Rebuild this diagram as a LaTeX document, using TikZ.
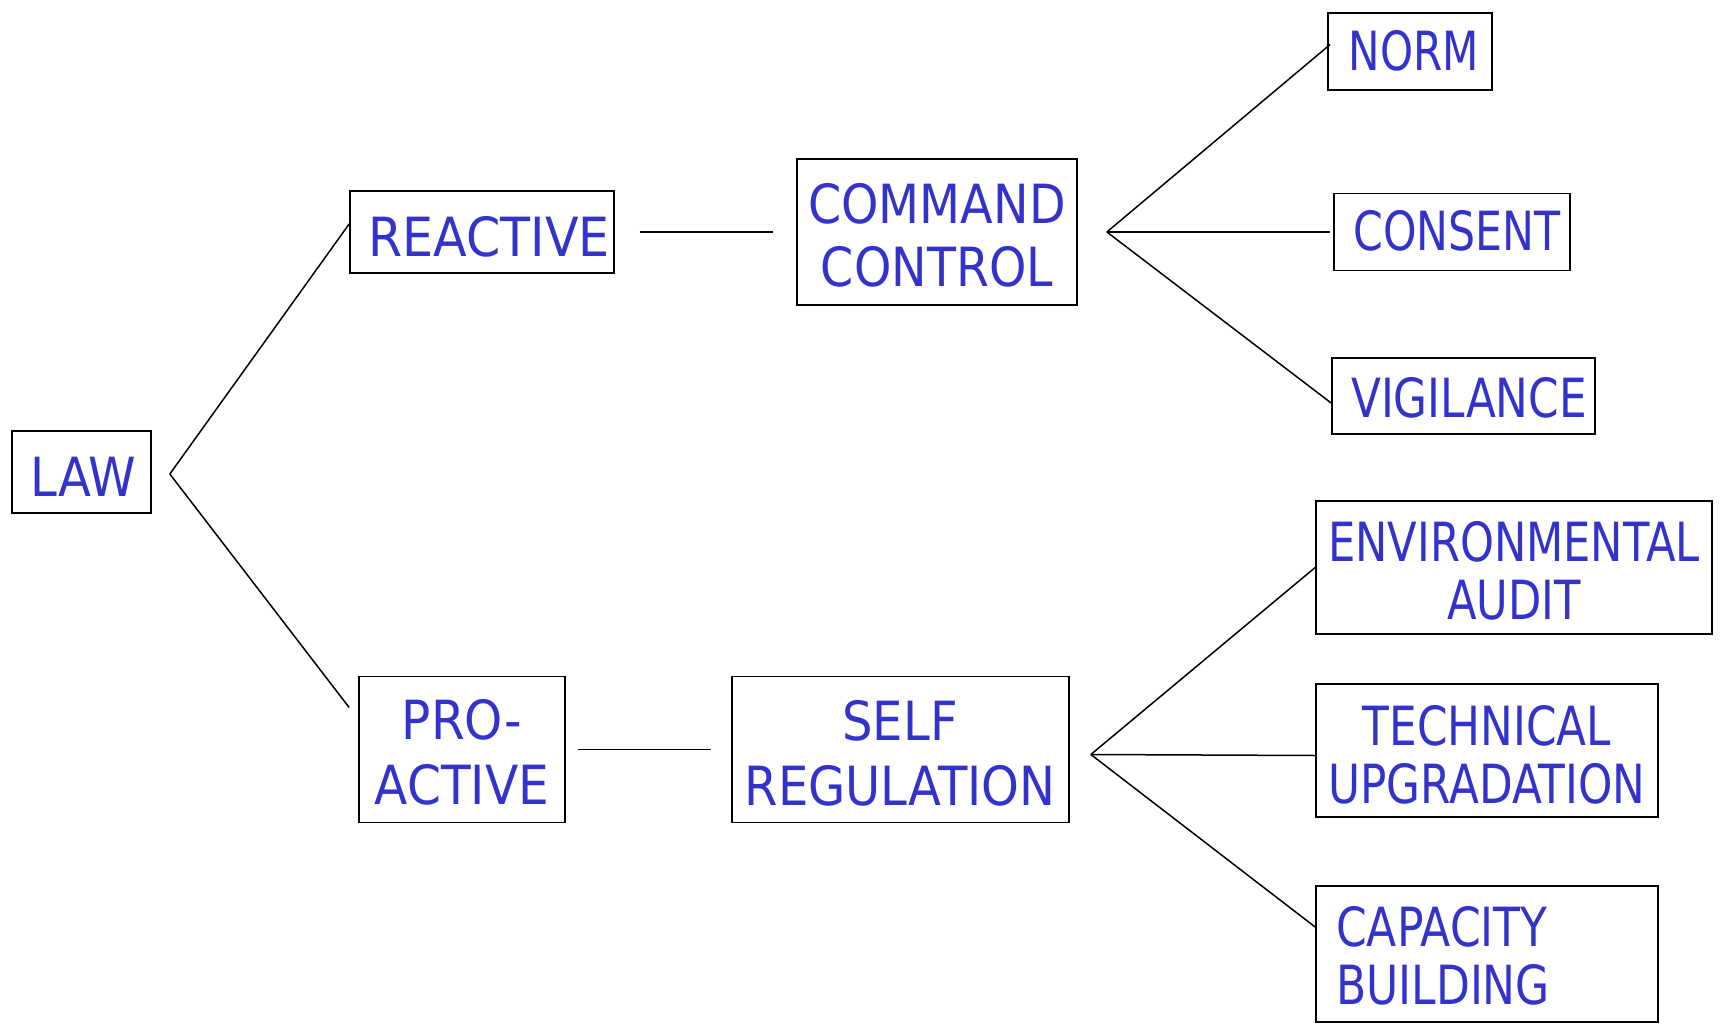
\documentclass[tikz,border=0pt]{standalone}
\usepackage{fontspec}
\usepackage{graphicx}
\newfontfamily\lblfont{DejaVu Sans}
\definecolor{lblue}{RGB}{51,51,204}
\newcommand\sxc[2]{\scalebox{#1}[1]{\begin{tabular}[t]{@{}c@{}}#2\end{tabular}}}
\newcommand\sxl[2]{\scalebox{#1}[1]{\begin{tabular}[t]{@{}l@{}}#2\end{tabular}}}
\begin{document}
\begin{tikzpicture}[x=1pt,y=-1pt,
  box/.style={draw=black,line width=1.7pt,rectangle,inner sep=0pt,anchor=center},
  lbl/.style={inner sep=0pt,anchor=base,text=lblue,font=\lblfont\fontsize{54}{58}\selectfont},
  conn/.style={draw=black,line width=1.5pt}]
\useasboundingbox[fill=white] (0,0) rectangle (1720,1024);
% boxes
\node[box,minimum width=139pt,minimum height=82pt] (law) at (81.5,472) {};
\node[box,minimum width=264pt,minimum height=82pt] (reactive) at (482,232) {};
\node[box,minimum width=280pt,minimum height=146pt] (cc) at (937,232) {};
\node[box,minimum width=164pt,minimum height=77pt] (norm) at (1410,51.5) {};
\node[box,minimum width=236pt,minimum height=77pt] (consent) at (1452,232) {};
\node[box,minimum width=263pt,minimum height=76pt] (vig) at (1463.5,396) {};
\node[box,minimum width=206pt,minimum height=146pt] (pa) at (462,749.5) {};
\node[box,minimum width=337pt,minimum height=146pt] (sr) at (900.5,749.5) {};
\node[box,minimum width=396pt,minimum height=133pt] (env) at (1514,567.5) {};
\node[box,minimum width=342pt,minimum height=133pt] (tech) at (1487,750.5) {};
\node[box,minimum width=342pt,minimum height=136pt] (cap) at (1487,954) {};
% texts
\node[lbl] (law-t) at (83,496) {\sxc{0.89}{LAW}};
\node[lbl] (reactive-t) at (489,256) {\sxc{0.91}{REACTIVE}};
\node[lbl] (cc-t) at (937,224) {\sxc{0.88}{COMMAND\\[5pt]CONTROL}};
\node[lbl] (norm-t) at (1414,71) {\sxc{0.78}{NORM}};
\node[lbl] (consent-t) at (1457,251) {\sxc{0.79}{CONSENT}};
\node[lbl] (vig-t) at (1469,417) {\sxc{0.81}{VIGILANCE}};
\node[lbl] (pa-t) at (462,739) {\sxc{0.90}{PRO-\\[7pt]ACTIVE}};
\node[lbl] (sr-t) at (900,740) {\sxc{0.89}{SELF\\[7pt]REGULATION}};
\node[lbl] (env-t) at (1514,561) {\sxc{0.80}{ENVIRONMENTAL\\AUDIT}};
\node[lbl] (tech-t) at (1487,745) {\sxc{0.81}{TECHNICAL\\UPGRADATION}};
\node[lbl,anchor=base west] (cap-t) at (1336,946) {\sxl{0.815}{CAPACITY\\BUILDING}};
% connector coordinates
\coordinate (lawfork) at ([xshift=18pt,yshift=-2pt]law.east);
\coordinate (pa-in) at ([xshift=-9pt,yshift=42pt]pa.west);
\coordinate (ccfork) at ([xshift=29pt]cc.east);
\coordinate (srfork) at ([xshift=21pt,yshift=-5pt]sr.east);
% connectors
\draw[conn] (lawfork) -- ([yshift=8pt]reactive.west);
\draw[conn] (lawfork) -- (pa-in);
\draw[conn] ([xshift=25pt]reactive.east) -- ([xshift=-23pt]cc.west);
\draw[conn] (ccfork) -- ([xshift=3pt,yshift=7pt]norm.west);
\draw[conn] (ccfork) -- ([xshift=-3pt]consent.west);
\draw[conn] (ccfork) -- ([yshift=-7pt]vig.west);
\draw[conn] ([xshift=12pt]pa.east) -- ([xshift=-20pt]sr.west);
\draw[conn] (srfork) -- (env.west);
\draw[conn] (srfork) -- ([yshift=-5pt]tech.west);
\draw[conn] (srfork) -- ([yshift=27pt]cap.west);
\end{tikzpicture}
\end{document}
